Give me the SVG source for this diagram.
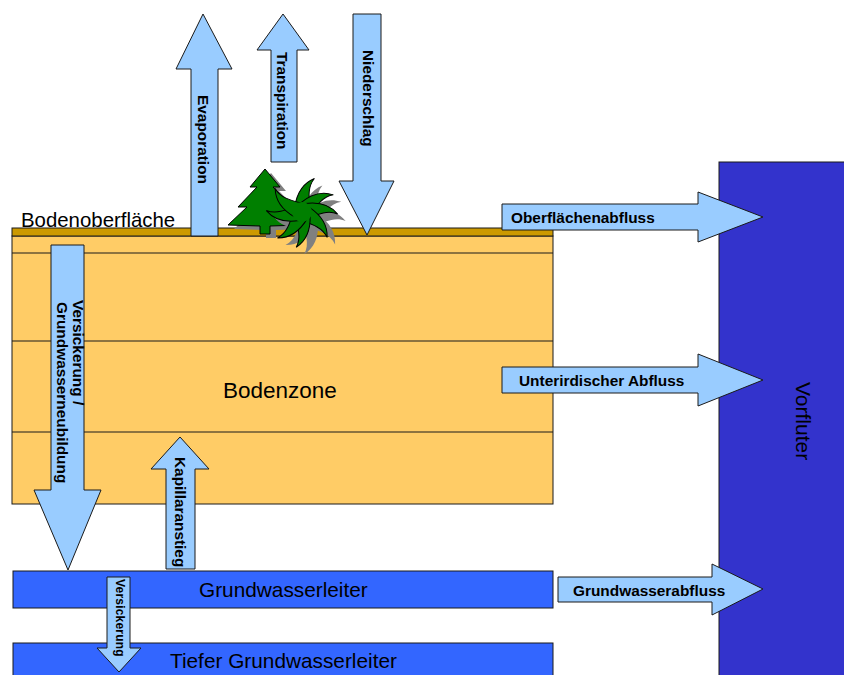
<svg xmlns="http://www.w3.org/2000/svg" xmlns:xlink="http://www.w3.org/1999/xlink" width="844" height="675" viewBox="0 0 844 675">
<style>
.arrow{fill:#99CCFF;stroke:#1a1a1a;stroke-width:1}
.lbl{font-family:"Liberation Sans",Arial,sans-serif;font-weight:bold;font-size:15.4px;fill:#000}
.big{font-family:"Liberation Sans",Arial,sans-serif;font-size:21px;fill:#000}
.edge{stroke:#1a1a1a;stroke-width:1}
.green{fill:#007F00;stroke:#000;stroke-width:1}
.shadow{fill:#808080;stroke:none}
</style>
<defs>
<path id="blade" d="M -8,-4 C -8,-19 -3,-29 7,-35 C 1,-25 5,-14 8,-3 Z"/>
<g id="star">
<use xlink:href="#blade" transform="rotate(9)"/>
<use xlink:href="#blade" transform="rotate(50)"/>
<use xlink:href="#blade" transform="rotate(82)"/>
<use xlink:href="#blade" transform="rotate(124)"/>
<use xlink:href="#blade" transform="rotate(178)"/>
<use xlink:href="#blade" transform="rotate(212)"/>
<use xlink:href="#blade" transform="rotate(261)"/>
<use xlink:href="#blade" transform="rotate(300)"/>
</g>
<polygon id="tree" points="265,169 280,187 273,187 292,207 283,207 302,225 270,226 270,234 260,234 260,226 228,225 247,207 238,207 257,187 250,187"/>
</defs>
<rect width="844" height="675" fill="#fff"/>

<g id="vorfluter">
<rect x="719" y="162" width="130" height="520" fill="#3333CC" class="edge"/>
<text class="big" transform="translate(796,382) rotate(90)">Vorfluter</text>
</g>

<g id="bodenzone">
<rect x="12" y="236" width="541" height="268" fill="#FFCC66" class="edge"/>
<line x1="12" y1="253" x2="553" y2="253" class="edge"/>
<line x1="12" y1="341" x2="553" y2="341" class="edge"/>
<line x1="12" y1="432" x2="553" y2="432" class="edge"/>
<text class="big" x="223" y="398" style="font-size:22.5px">Bodenzone</text>
</g>

<g id="bodenoberflaeche">
<rect x="12" y="228" width="541" height="8" fill="#CC9900" class="edge"/>
<text class="big" x="21" y="227" style="font-size:20.4px">Bodenoberfläche</text>
</g>

<g id="grundwasserleiter">
<rect x="13" y="571" width="540" height="37" fill="#3366FF" class="edge"/>
<text class="big" x="199" y="597" style="font-size:20.8px">Grundwasserleiter</text>
</g>

<g id="tiefer-grundwasserleiter">
<rect x="13" y="643" width="540" height="40" fill="#3366FF" class="edge"/>
<text class="big" x="170" y="668" style="font-size:20.8px">Tiefer Grundwasserleiter</text>
</g>

<g id="connectors">
<g id="evaporation">
<polygon class="arrow" points="191,236 191,69 176,69 203,14 232,69 218,69 218,236"/>
<text class="lbl" transform="translate(198,95) rotate(90)">Evaporation</text>
</g>
<g id="transpiration">
<polygon class="arrow" points="271,162 271,50 257,50 283,14 309,50 297,50 297,162"/>
<text class="lbl" transform="translate(277,52) rotate(90)">Transpiration</text>
</g>
<g id="niederschlag">
<polygon class="arrow" points="353,14 381,14 381,181 394,181 367,235 339,181 353,181"/>
<text class="lbl" transform="translate(363,50) rotate(90)">Niederschlag</text>
</g>
<g id="oberflaechenabfluss">
<polygon class="arrow" points="502,204 698,204 698,192 763,217 698,242 698,230 502,230"/>
<text class="lbl" x="511" y="223">Oberflächenabfluss</text>
</g>
<g id="unterirdischer-abfluss">
<polygon class="arrow" points="502,367 698,367 698,354 763,380 698,406 698,393 502,393"/>
<text class="lbl" x="519" y="386">Unterirdischer Abfluss</text>
</g>
<g id="grundwasserabfluss">
<polygon class="arrow" points="558,577 712,577 712,564 763,589 712,615 712,602 558,602"/>
<text class="lbl" x="573" y="596">Grundwasserabfluss</text>
</g>
<g id="versickerung-gwn">
<polygon class="arrow" points="51,245 84,245 84,490 101,490 68,570 34,490 51,490"/>
<text class="lbl" transform="translate(73,300) rotate(90)">Versickerung /</text>
<text class="lbl" transform="translate(57,302) rotate(90)">Grundwasserneubildung</text>
</g>
<g id="kapillaranstieg">
<polygon class="arrow" points="166,569 166,469 151,469 180,437 209,469 195,469 195,569"/>
<text class="lbl" transform="translate(175,457) rotate(90)">Kapillaranstieg</text>
</g>
<g id="versickerung">
<polygon class="arrow" points="107,577 130,577 130,648 141,648 119,672 97,648 107,648"/>
<text class="lbl" transform="translate(115.5,579) rotate(90)" style="font-size:12px;letter-spacing:0.2px">Versickerung</text>
</g>
</g>

<g id="pflanzen">
<use xlink:href="#tree" class="shadow" transform="translate(6,4)"/>
<use xlink:href="#tree" class="green"/>
<g transform="translate(310,219)" class="shadow">
<use xlink:href="#star"/>
<circle r="10"/>
</g>
<g transform="translate(302,212)" class="green">
<use xlink:href="#star"/>
<circle r="10" style="stroke:none"/>
</g>
</g>
</svg>
